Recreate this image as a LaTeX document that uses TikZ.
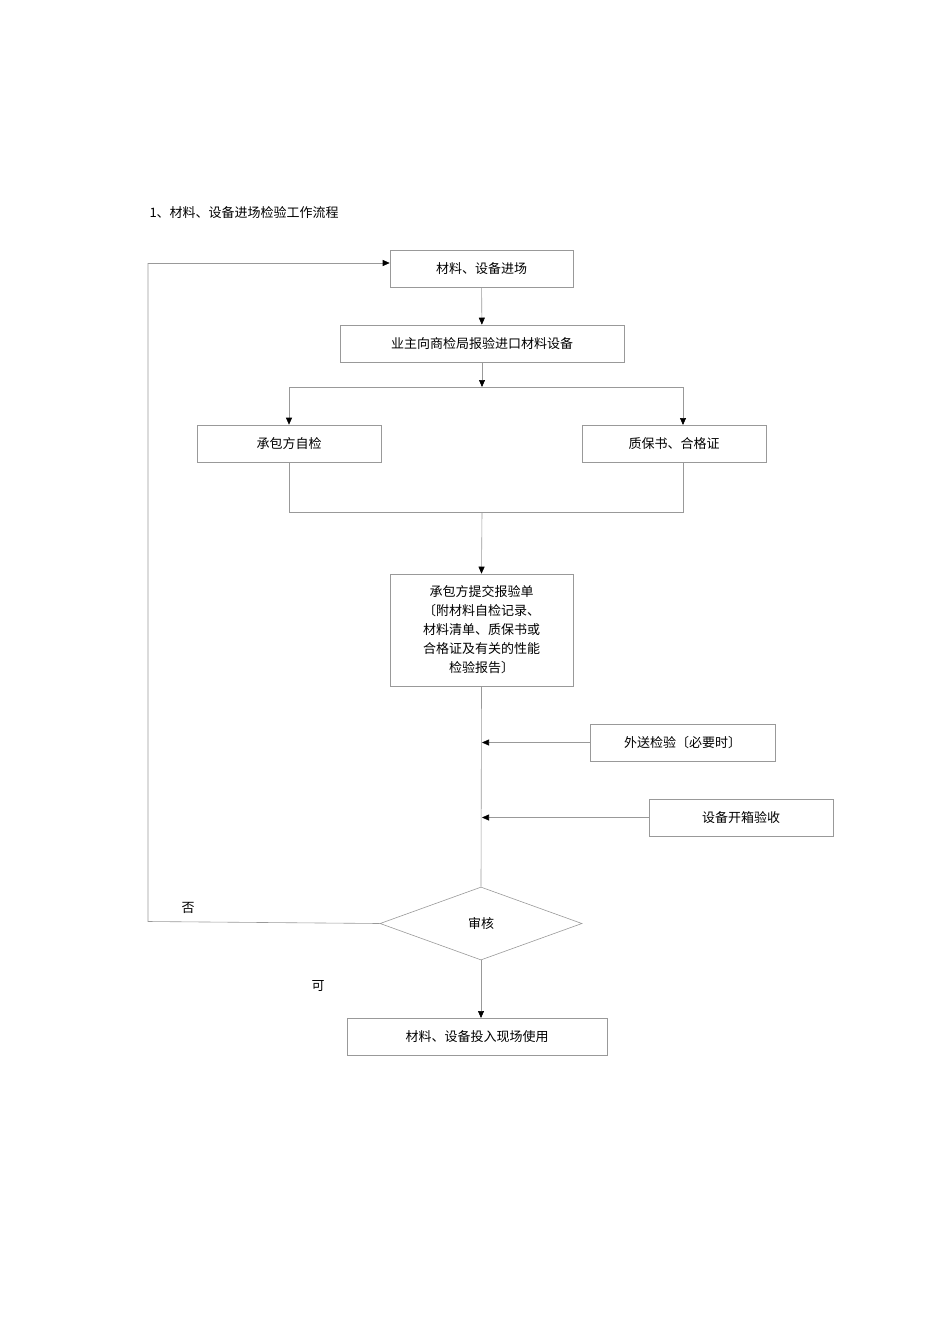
\documentclass[tikz,border=0pt]{standalone}
\usepackage{fontspec}
\setmainfont{Noto Sans CJK SC}
\usetikzlibrary{arrows.meta,shapes.geometric}
\begin{document}
\begin{tikzpicture}[x=1pt,y=-1pt,
  box/.style={draw=gray!80,line width=0.6pt,minimum height=37pt,inner sep=0pt,font=\fontsize{13}{15}\selectfont},
  ln/.style={draw=gray!80,line width=0.6pt},
  arr/.style={ln,-{Triangle[length=7pt,width=6pt,fill=black,color=black]}},
  lbl/.style={font=\fontsize{13}{15}\selectfont}]
\useasboundingbox (0,0) rectangle (950,1344);
\node[lbl,anchor=west] (t) at (146,213) {1、材料、设备进场检验工作流程};
\node[box,minimum width=183pt] (b1) at (481.5,268.5) {材料、设备进场};
\node[box,minimum width=284pt] (b2) at (482,343.5) {业主向商检局报验进口材料设备};
\node[box,minimum width=184pt] (b3) at (289,443.5) {承包方自检};
\node[box,minimum width=184pt] (b4) at (674,443.5) {质保书、合格证};
\node[box,minimum width=183pt,minimum height=112pt,align=center,font=\fontsize{13}{19}\selectfont] (b5) at (481.5,630) {承包方提交报验单\\〔附材料自检记录、\\材料清单、质保书或\\合格证及有关的性能\\检验报告〕};
\node[box,minimum width=185pt] (b6) at (682.5,742.5) {外送检验〔必要时〕};
\node[box,minimum width=184pt] (b7) at (741,817.5) {设备开箱验收};
\node[diamond,draw=gray!80,line width=0.6pt,minimum width=202pt,minimum height=73pt,inner sep=0pt,aspect=2.77,font=\fontsize{13}{15}\selectfont] (d) at (481,923.5) {审核};
\node[box,minimum width=260pt] (b8) at (477,1036.5) {材料、设备投入现场使用};
\node[lbl] (no) at (188,908) {否};
\node[lbl] (yes) at (318,986) {可};
\coordinate (s) at (482,387);
\coordinate (j) at (482,512);
\draw[arr] (b1) -- (b2);
\draw[arr] (b2) -- (s);
\draw[ln] (289,387) -- (683,387);
\draw[arr] (289,387) -- (b3.north);
\draw[arr] (683,387) -- (683,425);
\draw[ln] (b3.south) -- (289,512) -- (683,512) -- (683,462);
\draw[arr] (j) -- (b5.north);
\draw[ln] (b5.south) -- (d.north);
\draw[arr] (b6.west) -- (482,749 |- b6.west);
\draw[arr] (b7.west) -- (482,824 |- b7.west);
\draw[ln] (d.west) -- (148,921.5) -- (148,263);
\draw[arr] (148,263) -- (b1.west |- 0,263);
\draw[arr] (d.south) -- (481,1018);
\end{tikzpicture}
\end{document}
